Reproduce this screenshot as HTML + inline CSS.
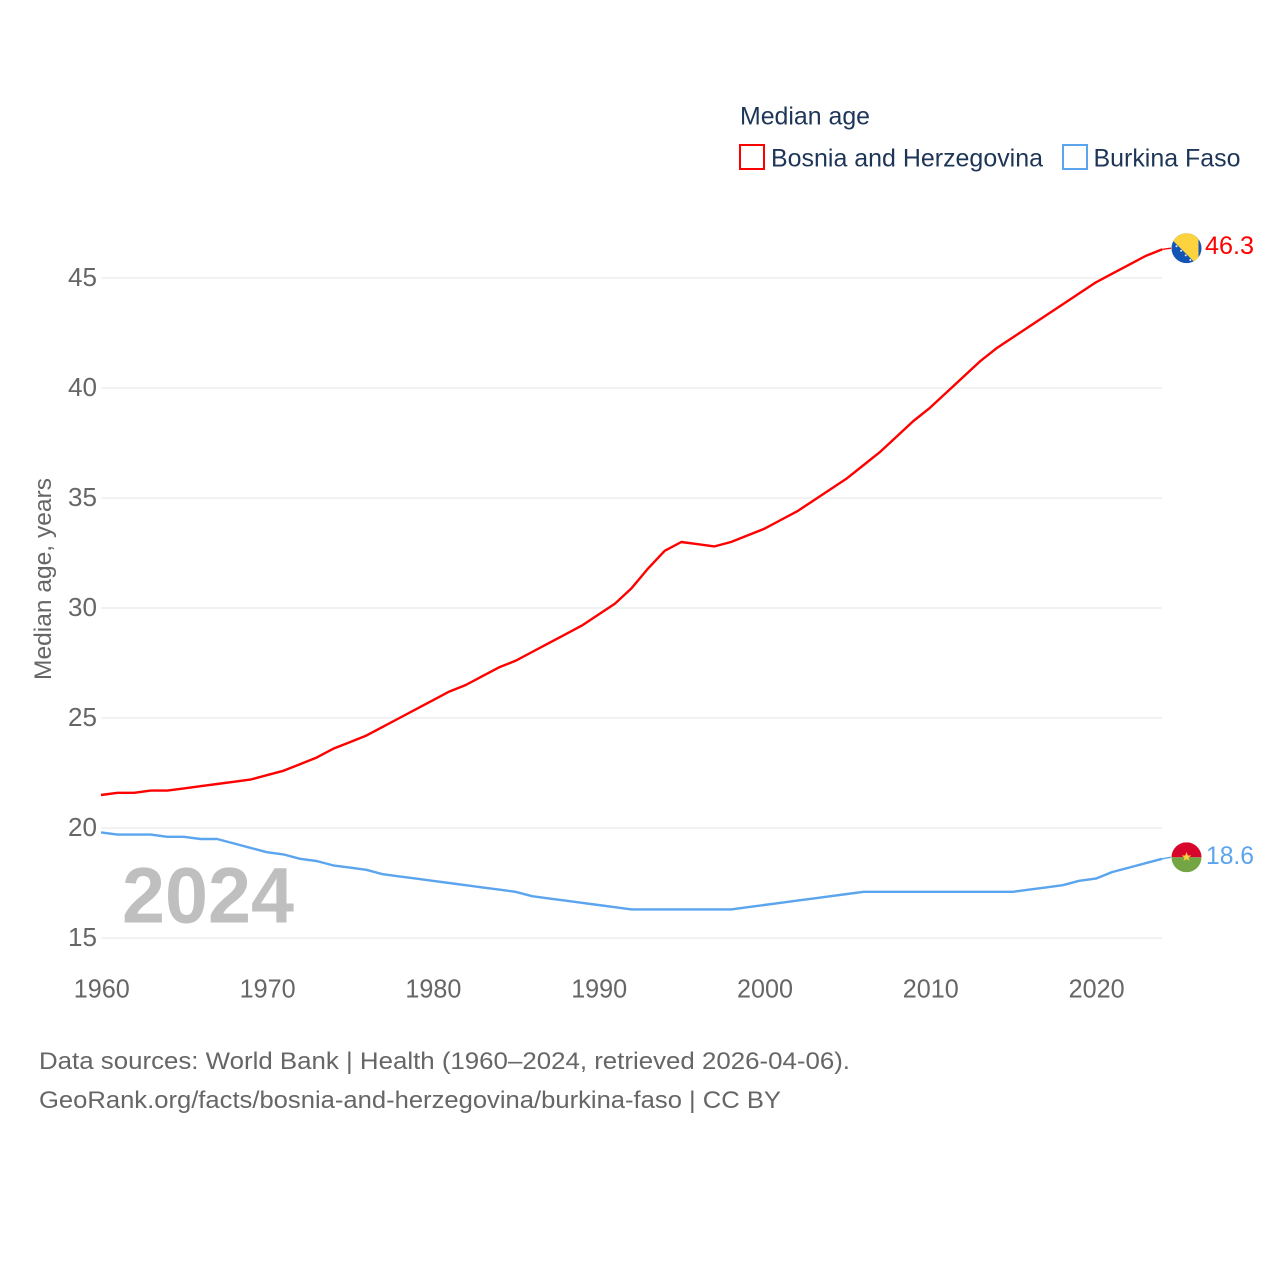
<!DOCTYPE html>
<html lang="en">
<head>
<meta charset="utf-8">
<title>Median age: Bosnia and Herzegovina vs Burkina Faso</title>
<style>
  html, body { margin: 0; padding: 0; background: #fff; }
  svg { display: block; }
  text { font-family: "Liberation Sans", "DejaVu Sans", sans-serif; }
  .tick { font-size: 25.5px; fill: #666; }
  .legend { font-size: 25px; fill: #1d3557; }
  .source { font-size: 24.5px; fill: #666; }
</style>
</head>
<body>
<svg id="chart" width="1280" height="1280" viewBox="0 0 1280 1280" xmlns="http://www.w3.org/2000/svg">
  <defs>
    <clipPath id="clip-ba"><circle id="clip-ba-c" cx="1186.5" cy="248" r="15"></circle></clipPath>
    <clipPath id="clip-bf"><circle id="clip-bf-c" cx="1186.5" cy="858" r="15"></circle></clipPath>
  </defs>
  <rect x="0" y="0" width="1280" height="1280" fill="#ffffff"></rect>

  <g id="grid"></g>
  <g id="y-ticks"></g>
  <g id="x-ticks"></g>

  <text transform="translate(51,680) rotate(-90)" font-size="24.5" fill="#666" textLength="202" lengthAdjust="spacingAndGlyphs">Median age, years</text>

  <text x="122" y="922.5" font-size="79" font-weight="700" fill="#bfbfbf" textLength="172" lengthAdjust="spacingAndGlyphs">2024</text>

  <g id="series"></g>

  <g id="flag-ba" clip-path="url(#clip-ba)"></g>
  <g id="flag-bf" clip-path="url(#clip-bf)"></g>

  <text id="end-ba" x="1205" y="254" font-size="25" fill="#ff0000" textLength="49" lengthAdjust="spacingAndGlyphs"></text>
  <text id="end-bf" x="1206" y="864" font-size="25" fill="#5ba4ee" textLength="48" lengthAdjust="spacingAndGlyphs"></text>

  <g>
    <text class="legend" x="740" y="124.5" textLength="130" lengthAdjust="spacingAndGlyphs">Median age</text>
    <rect x="740" y="145" width="24" height="24" fill="#fff" stroke="#ff0000" stroke-width="2"></rect>
    <text class="legend" x="771" y="166.5" textLength="272" lengthAdjust="spacingAndGlyphs">Bosnia and Herzegovina</text>
    <rect x="1063" y="145" width="24" height="24" fill="#fff" stroke="#5ba4ee" stroke-width="2"></rect>
    <text class="legend" x="1093.5" y="166.5" textLength="147" lengthAdjust="spacingAndGlyphs">Burkina Faso</text>
  </g>

  <text class="source" x="39" y="1069" textLength="811" lengthAdjust="spacingAndGlyphs">Data sources: World Bank | Health (1960–2024, retrieved 2026-04-06).</text>
  <text class="source" x="39" y="1108" textLength="742" lengthAdjust="spacingAndGlyphs">GeoRank.org/facts/bosnia-and-herzegovina/burkina-faso | CC BY</text>
</svg>

<script>
const firstYear = 1960;
const yTickValues = [15, 20, 25, 30, 35, 40, 45];
const xTickValues = [1960, 1970, 1980, 1990, 2000, 2010, 2020];
const bosniaValues = [
  21.5, 21.6, 21.6, 21.7, 21.7, 21.8, 21.9, 22.0, 22.1, 22.2,
  22.4, 22.6, 22.9, 23.2, 23.6, 23.9, 24.2, 24.6, 25.0, 25.4,
  25.8, 26.2, 26.5, 26.9, 27.3, 27.6, 28.0, 28.4, 28.8, 29.2,
  29.7, 30.2, 30.9, 31.8, 32.6, 33.0, 32.9, 32.8, 33.0, 33.3,
  33.6, 34.0, 34.4, 34.9, 35.4, 35.9, 36.5, 37.1, 37.8, 38.5,
  39.1, 39.8, 40.5, 41.2, 41.8, 42.3, 42.8, 43.3, 43.8, 44.3,
  44.8, 45.2, 45.6, 46.0, 46.3
];
const burkinaValues = [
  19.8, 19.7, 19.7, 19.7, 19.6, 19.6, 19.5, 19.5, 19.3, 19.1,
  18.9, 18.8, 18.6, 18.5, 18.3, 18.2, 18.1, 17.9, 17.8, 17.7,
  17.6, 17.5, 17.4, 17.3, 17.2, 17.1, 16.9, 16.8, 16.7, 16.6,
  16.5, 16.4, 16.3, 16.3, 16.3, 16.3, 16.3, 16.3, 16.3, 16.4,
  16.5, 16.6, 16.7, 16.8, 16.9, 17.0, 17.1, 17.1, 17.1, 17.1,
  17.1, 17.1, 17.1, 17.1, 17.1, 17.1, 17.2, 17.3, 17.4, 17.6,
  17.7, 18.0, 18.2, 18.4, 18.6
];

const NS = 'http://www.w3.org/2000/svg';
function xScale(year) { return 101 + (year - 1960) * 16.58; }
function yScale(value) { return 938 - (value - 15) * 22; }
function make(tag, attrs, parent) {
  const el = document.createElementNS(NS, tag);
  for (const k in attrs) el.setAttribute(k, attrs[k]);
  parent.appendChild(el);
  return el;
}
function linePath(values) {
  return values.map(function (v, i) {
    return (i ? 'L' : 'M') + xScale(firstYear + i).toFixed(2) + ' ' + yScale(v).toFixed(2);
  }).join(' ');
}

const gridG = document.getElementById('grid');
const yG = document.getElementById('y-ticks');
const xG = document.getElementById('x-ticks');
const seriesG = document.getElementById('series');

yTickValues.forEach(function (v) {
  const line = make('line', { x1: 101, x2: 1162, y1: yScale(v), y2: yScale(v), stroke: '#eeeeee', 'stroke-width': 1.6 }, gridG);
  
  
  const t = make('text', { class: 'tick', x: 97, y: yScale(v) + 8.2, 'text-anchor': 'end', textLength: 29, lengthAdjust: 'spacingAndGlyphs' }, yG);
  
  
  t.textContent = v;
});

xTickValues.forEach(function (year) {
  const t = make('text', { class: 'tick', x: xScale(year) + 0.8, y: 997.5, 'text-anchor': 'middle', textLength: 56, lengthAdjust: 'spacingAndGlyphs' }, xG);
  
  
  t.textContent = year;
});

const lastYear = firstYear + bosniaValues.length - 1;
const endX = xScale(lastYear);
const lastBa = bosniaValues[bosniaValues.length - 1];
const lastBf = burkinaValues[burkinaValues.length - 1];
const baY = yScale(lastBa) - 1.2;
const bfY = yScale(lastBf) - 1.5;

const baLine = make('path', { d: linePath(bosniaValues), fill: 'none', stroke: '#ff0000', 'stroke-width': 2.4, 'stroke-linejoin': 'round' }, seriesG);


const bfLine = make('path', { d: linePath(burkinaValues), fill: 'none', stroke: '#5ba4ee', 'stroke-width': 2.4, 'stroke-linejoin': 'round' }, seriesG);



const baConn = make('path', { d: 'M' + endX + ' ' + yScale(lastBa) + ' L1171 ' + baY, fill: 'none', stroke: '#ff0000', 'stroke-width': 1.3 }, seriesG);


const bfConn = make('path', { d: 'M' + endX + ' ' + yScale(lastBf) + ' L1171 ' + bfY, fill: 'none', stroke: '#5ba4ee', 'stroke-width': 1.3 }, seriesG);



document.getElementById('end-ba').textContent = lastBa.toFixed(1);
document.getElementById('end-ba').setAttribute('y', yScale(lastBa) + 4.5);
document.getElementById('end-bf').textContent = lastBf.toFixed(1);
document.getElementById('end-bf').setAttribute('y', yScale(lastBf) + 5);

/* Flags follow the last data values */
const cx = 1186.5;
document.getElementById('clip-ba-c').setAttribute('cy', baY);
document.getElementById('clip-bf-c').setAttribute('cy', bfY);

const fBa = document.getElementById('flag-ba');
make('rect', { x: cx - 15, y: baY - 15, width: 30, height: 30, fill: '#1255b5' }, fBa);
make('polygon', {
  points: (cx - 16) + ',' + (baY - 16) + ' ' + (cx + 12) + ',' + (baY - 16) + ' ' + (cx + 12) + ',' + (baY + 16) + ' ' + (cx + 10) + ',' + (baY + 16) + ' ' + (cx - 16) + ',' + (baY - 10),
  fill: '#fdd23f'
}, fBa);
for (let i = 0; i < 4; i++) {
  make('circle', { cx: cx - 10 + i * 4.6, cy: baY - 2 + i * 4.6, r: 1, fill: '#e8eef8' }, fBa);
}

const fBf = document.getElementById('flag-bf');
make('rect', { x: cx - 15, y: bfY - 15, width: 30, height: 15, fill: '#d8062c' }, fBf);
make('rect', { x: cx - 15, y: bfY, width: 30, height: 15, fill: '#74a544' }, fBf);
const sx = cx, sy = bfY - 0.3;
make('polygon', {
  points: [
    [sx, sy - 5], [sx + 1.3, sy - 1.5], [sx + 4.8, sy - 1.5], [sx + 2, sy + 0.7], [sx + 3, sy + 4],
    [sx, sy + 2], [sx - 3, sy + 4], [sx - 2, sy + 0.7], [sx - 4.8, sy - 1.5], [sx - 1.3, sy - 1.5]
  ].map(function (p) { return p[0] + ',' + p[1]; }).join(' '),
  fill: '#f6d23c'
}, fBf);
</script>
</body>
</html>
